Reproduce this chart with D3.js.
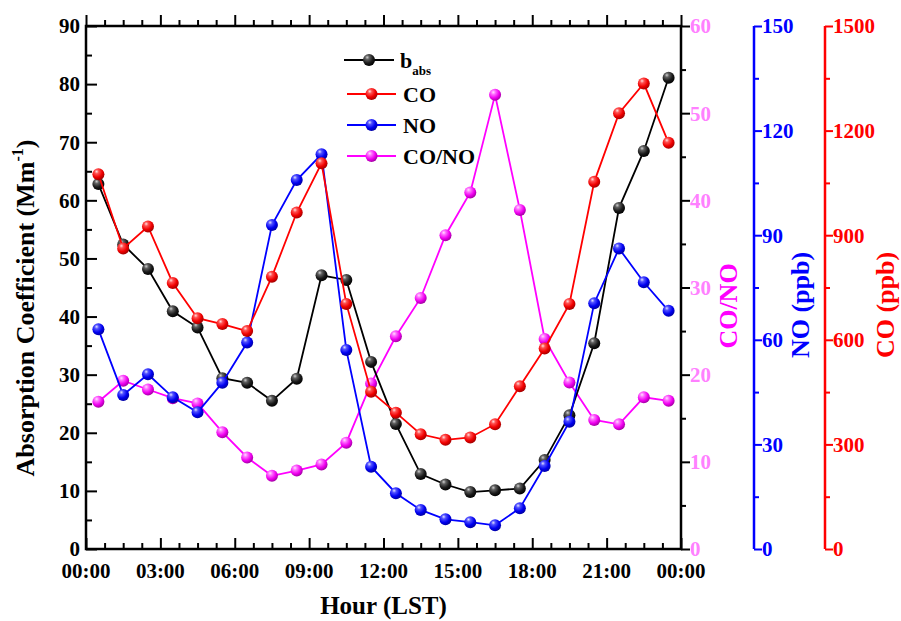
<!DOCTYPE html>
<html>
<head>
<meta charset="utf-8">
<script src="https://cdn.jsdelivr.net/npm/d3@7"></script>
<style>
  html, body { margin: 0; padding: 0; background: #fff; }
  svg { display: block; }
  text { font-family: "Liberation Serif", "Times New Roman", serif; font-weight: bold; }
</style>
</head>
<body>
<svg id="chart" width="901" height="621"></svg>
<script>
// ---- Data ----
const hours = [0.5,1.5,2.5,3.5,4.5,5.5,6.5,7.5,8.5,9.5,10.5,11.5,12.5,13.5,14.5,15.5,16.5,17.5,18.5,19.5,20.5,21.5,22.5,23.5];
const babs = [62.8,52.4,48.2,40.9,38.1,29.4,28.6,25.5,29.3,47.1,46.3,32.2,21.5,12.9,11.1,9.8,10.1,10.4,15.3,23.0,35.4,58.7,68.5,81.1];
const co = [1075,862,925,763,662,645,625,781,965,1106,703,451,391,329,313,320,358,467,575,703,1053,1250,1335,1165];
const no = [63.0,44.2,50.1,43.5,39.2,47.7,59.2,92.9,105.8,113.2,57.1,23.6,16.0,11.2,8.5,7.7,6.8,11.7,23.8,36.5,70.5,86.2,76.5,68.3];
const coNo = [16.9,19.3,18.3,17.3,16.7,13.4,10.5,8.4,9.0,9.7,12.2,19.0,24.4,28.8,36.0,40.9,52.1,38.9,24.1,19.1,14.8,14.3,17.4,17.0];
const xTickValues = [0,3,6,9,12,15,18,21,24];
const xTickLabels = ["00:00","03:00","06:00","09:00","12:00","15:00","18:00","21:00","00:00"];
const legendLabels = ["b", "CO", "NO", "CO/NO"];

// ---- Layout ----
const svg = d3.select("#chart");
const L = 86, R = 681, T = 26, B = 549;
const x = d3.scaleLinear().domain([0,24]).range([L,R]);
const yL = d3.scaleLinear().domain([0,90]).range([B,T]);
const yCoNo = d3.scaleLinear().domain([0,60]).range([B,T]);
const yNo = d3.scaleLinear().domain([0,150]).range([B,T]);
const yCo = d3.scaleLinear().domain([0,1500]).range([B,T]);

// gradients for spherical markers
const defs = svg.append("defs");
function grad(id, c0, c1, c2, c3) {
  const g = defs.append("radialGradient").attr("id", id)
    .attr("cx","38%").attr("cy","32%").attr("r","70%").attr("fx","35%").attr("fy","28%");
  g.append("stop").attr("offset","0%").attr("stop-color",c0);
  g.append("stop").attr("offset","25%").attr("stop-color",c1);
  g.append("stop").attr("offset","65%").attr("stop-color",c2);
  g.append("stop").attr("offset","100%").attr("stop-color",c3);
}
grad("gBlack","#d0d0d0","#606060","#1a1a1a","#000");
grad("gRed","#ffe0e0","#ff5050","#f00000","#a00000");
grad("gBlue","#e0e0ff","#5050ff","#0000f0","#0000a0");
grad("gMag","#ffe0ff","#ff70ff","#f000f0","#a000a0");

const fs = 21;
const axisW = 2;

// ---- Axes ----
// bottom axis (ticks inward)
const gb = svg.append("g").attr("transform", `translate(0,${B})`);
gb.call(d3.axisBottom(x).tickValues(d3.range(0,24.01,0.75)).tickSize(-6).tickFormat(""));
gb.call(g => g.selectAll(".tick").filter(d => d % 3 === 0).select("line").attr("y2", -11));
gb.selectAll("path").remove();
const gbLab = svg.append("g");
gbLab.selectAll("text").data(xTickValues).join("text")
  .attr("x", d => x(d)).attr("y", B + 29).attr("text-anchor","middle")
  .attr("font-size", fs).attr("fill","#000")
  .text((d,i) => xTickLabels[i]);

// top axis (ticks outward)
const gt = svg.append("g").attr("transform", `translate(0,${T})`);
gt.call(d3.axisTop(x).tickValues(d3.range(0,24.01,0.75)).tickSize(6).tickFormat(""));
gt.call(g => g.selectAll(".tick").filter(d => d % 3 === 0).select("line").attr("y2", -11));
gt.selectAll("path").remove();

// left axis (ticks inward)
const gl = svg.append("g").attr("transform", `translate(${L},0)`);
gl.call(d3.axisLeft(yL).tickValues(d3.range(0,90.01,5)).tickSize(-6).tickFormat(""));
gl.call(g => g.selectAll(".tick").filter(d => d % 10 === 0).select("line").attr("x2", 11));
gl.selectAll("path").remove();
svg.append("g").selectAll("text").data(d3.range(0,90.01,10)).join("text")
  .attr("x", L - 6).attr("y", d => yL(d)).attr("dy","0.35em").attr("text-anchor","end")
  .attr("font-size", fs).attr("fill","#000").text(d => d);

// right axis CO/NO (ticks outward)
const gr = svg.append("g").attr("transform", `translate(${R},0)`);
gr.call(d3.axisRight(yCoNo).tickValues(d3.range(0,60.01,5)).tickSize(5).tickFormat(""));
gr.call(g => g.selectAll(".tick").filter(d => d % 10 === 0).select("line").attr("x2", 9));
gr.selectAll("path").remove();
svg.append("g").selectAll("text").data(d3.range(0,60.01,10)).join("text")
  .attr("x", R + 9).attr("y", d => yCoNo(d)).attr("dy","0.35em").attr("text-anchor","start")
  .attr("font-size", fs).attr("fill","#ff80ff").text(d => d);

// NO axis
const noX = 754;
const gn = svg.append("g").attr("transform", `translate(${noX},0)`);
gn.call(d3.axisRight(yNo).tickValues(d3.range(0,150.01,15)).tickSize(5).tickFormat(""));
gn.call(g => g.selectAll(".tick").filter(d => d % 30 === 0).select("line").attr("x2", 8));
gn.selectAll("path").remove();
gn.selectAll("line").attr("stroke","#0000ff").attr("stroke-width", axisW);
svg.append("line").attr("x1",noX).attr("x2",noX).attr("y1",T).attr("y2",B)
  .attr("stroke","#0000ff").attr("stroke-width",axisW+0.5);
svg.append("g").selectAll("text").data(d3.range(0,150.01,30)).join("text")
  .attr("x", noX + 8).attr("y", d => yNo(d)).attr("dy","0.35em").attr("text-anchor","start")
  .attr("font-size", fs).attr("fill","#0000ff").text(d => d);

// CO axis
const coX = 825;
const gc = svg.append("g").attr("transform", `translate(${coX},0)`);
gc.call(d3.axisRight(yCo).tickValues(d3.range(0,1500.01,150)).tickSize(5).tickFormat(""));
gc.call(g => g.selectAll(".tick").filter(d => d % 300 === 0).select("line").attr("x2", 8));
gc.selectAll("path").remove();
gc.selectAll("line").attr("stroke","#ff0000").attr("stroke-width", axisW);
svg.append("line").attr("x1",coX).attr("x2",coX).attr("y1",T).attr("y2",B)
  .attr("stroke","#ff0000").attr("stroke-width",axisW+0.5);
svg.append("g").selectAll("text").data(d3.range(0,1500.01,300)).join("text")
  .attr("x", coX + 8).attr("y", d => yCo(d)).attr("dy","0.35em").attr("text-anchor","start")
  .attr("font-size", fs).attr("fill","#ff0000").text(d => d);

// style black ticks
[gb, gt, gl, gr].forEach(g => g.selectAll("line").attr("stroke","#000").attr("stroke-width", axisW));

// frame
svg.append("rect").attr("x",L).attr("y",T).attr("width",R-L).attr("height",B-T)
  .attr("fill","none").attr("stroke","#000").attr("stroke-width",axisW+0.5);

// ---- Axis titles ----
svg.append("text").attr("x", (L+R)/2).attr("y", 614).attr("text-anchor","middle")
  .attr("font-size", 25).attr("fill","#000").text("Hour (LST)");

const lt = svg.append("text").attr("transform","translate(34,308) rotate(-90)")
  .attr("text-anchor","middle").attr("font-size",26).attr("fill","#000");
lt.append("tspan").text("Absorption Coefficient (Mm");
lt.append("tspan").attr("font-size",16).attr("dy",-11).text("-1");
lt.append("tspan").attr("dy",11).text(")");

svg.append("text").attr("transform","translate(737,306) rotate(-90)")
  .attr("text-anchor","middle").attr("font-size",26).attr("fill","#ff00ff").text("CO/NO");
svg.append("text").attr("transform","translate(809,305) rotate(-90)")
  .attr("text-anchor","middle").attr("font-size",26).attr("fill","#0000ff").text("NO (ppb)");
svg.append("text").attr("transform","translate(894,305) rotate(-90)")
  .attr("text-anchor","middle").attr("font-size",26).attr("fill","#ff0000").text("CO (ppb)");

// ---- Series ----
const series = [
  {vals: coNo, y: yCoNo, color: "#ff00ff", grad: "gMag"},
  {vals: babs, y: yL, color: "#000000", grad: "gBlack"},
  {vals: no, y: yNo, color: "#0000ff", grad: "gBlue"},
  {vals: co, y: yCo, color: "#ff0000", grad: "gRed"}
];
const r = 6;
series.forEach(s => {
  const pts = hours.map((h,i) => [x(h), s.y(s.vals[i])]);
  svg.append("path").attr("d", d3.line()(pts)).attr("fill","none")
    .attr("stroke", s.color).attr("stroke-width", 1.8);
  svg.append("g").selectAll("circle").data(pts).join("circle")
    .attr("cx", d => d[0]).attr("cy", d => d[1]).attr("r", r)
    .attr("fill", `url(#${s.grad})`);
});

// ---- Legend ----
const legend = [
  {label: "b", color: "#000000", grad: "gBlack", y: 60, x1: 344, x2: 394},
  {label: "CO", color: "#ff0000", grad: "gRed", y: 94, x1: 347, x2: 396},
  {label: "NO", color: "#0000ff", grad: "gBlue", y: 125, x1: 347, x2: 396},
  {label: "CO/NO", color: "#ff00ff", grad: "gMag", y: 156, x1: 347, x2: 396}
];
legend.forEach((d,i) => {
  svg.append("line").attr("x1",d.x1).attr("x2",d.x2).attr("y1",d.y).attr("y2",d.y)
    .attr("stroke",d.color).attr("stroke-width",1.8);
  svg.append("circle").attr("cx",(d.x1+d.x2)/2).attr("cy",d.y).attr("r",r).attr("fill",`url(#${d.grad})`);
  const t = svg.append("text").attr("x", i === 0 ? 400 : 403).attr("y", d.y + 8)
    .attr("font-size", 22).attr("fill","#000");
  t.append("tspan").text(legendLabels[i]);
  if (i === 0) t.append("tspan").attr("font-size",13).attr("dy",7).text("abs");
});
</script>
</body>
</html>
